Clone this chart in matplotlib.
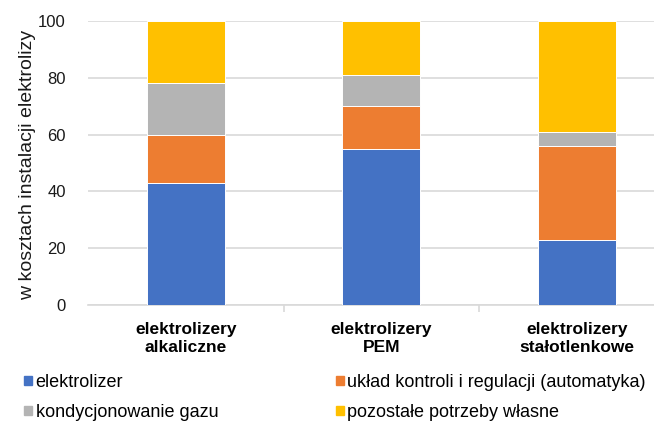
import matplotlib
matplotlib.use("Agg")
import matplotlib.pyplot as plt
from matplotlib.patches import Patch
import numpy as np

plt.rcParams['font.family'] = ['Liberation Sans', 'DejaVu Sans']

categories = ["elektrolizery\nalkaliczne", "elektrolizery\nPEM", "elektrolizery\nstałotlenkowe"]
series_names = ["elektrolizer", "układ kontroli i regulacji (automatyka)",
                "kondycjonowanie gazu", "pozostałe potrzeby własne"]
elektrolizer = [43, 55, 23]
uklad_kontroli = [17, 15, 33]
kondycjonowanie = [18, 11, 5]
pozostale = [22, 19, 39]
colors = ["#4472C4", "#ED7D31", "#B4B4B4", "#FFC000"]
y_ticks = [0, 20, 40, 60, 80, 100]

W, H = 654, 426
fig = plt.figure(figsize=(W / 100, H / 100), dpi=100)
left, right, bottom, top = 88, 674.75, 305, 21
ax = fig.add_axes([left / W, 1 - bottom / H, (right - left) / W, (bottom - top) / H])

x = np.arange(len(categories))
base = np.zeros(len(categories))
for vals, col in zip([elektrolizer, uklad_kontroli, kondycjonowanie, pozostale], colors):
    ax.bar(x, vals, width=0.4, bottom=base, color=col, edgecolor="white",
           linewidth=0.7, zorder=3)
    base += np.array(vals)

ax.set_xlim(-0.5, len(categories) - 0.5)
ax.set_ylim(0, 100)
ax.set_yticks(y_ticks)
ax.yaxis.grid(True, color="#D9D9D9", linewidth=1.2, zorder=0)
ax.tick_params(axis="y", length=0, pad=16, labelsize=12, labelcolor="#1a1a1a")

ax.set_xticks(x)
ax.set_xticklabels(categories, fontweight="bold", fontsize=12.5, linespacing=1.28)
ax.set_xticks(x[:-1] + 0.5, minor=True)
ax.tick_params(axis="x", which="major", length=0, pad=12)
ax.tick_params(axis="x", which="minor", length=5, color="#D9D9D9", width=1.2)

for s in ["left", "right", "top"]:
    ax.spines[s].set_visible(False)
ax.spines["bottom"].set_color("#D9D9D9")
ax.spines["bottom"].set_linewidth(1.2)

fig.text(28 / W, 1 - 165 / H, "w kosztach instalacji elektrolizy", rotation=90,
         ha="center", va="center", fontsize=14, color="#1a1a1a")

handles = [Patch(color=c) for c in colors]
order = [0, 2, 1, 3]
fig.legend([handles[i] for i in order], [series_names[i] for i in order],
           ncol=2, loc="upper left", bbox_to_anchor=(24 / W, 1 - 374 / H),
           frameon=False, fontsize=13, handlelength=0.45, handleheight=0.45,
           handletextpad=0.2, columnspacing=6.5, labelspacing=0.72,
           borderaxespad=0, borderpad=0)

fig.savefig("out.png", dpi=100)
